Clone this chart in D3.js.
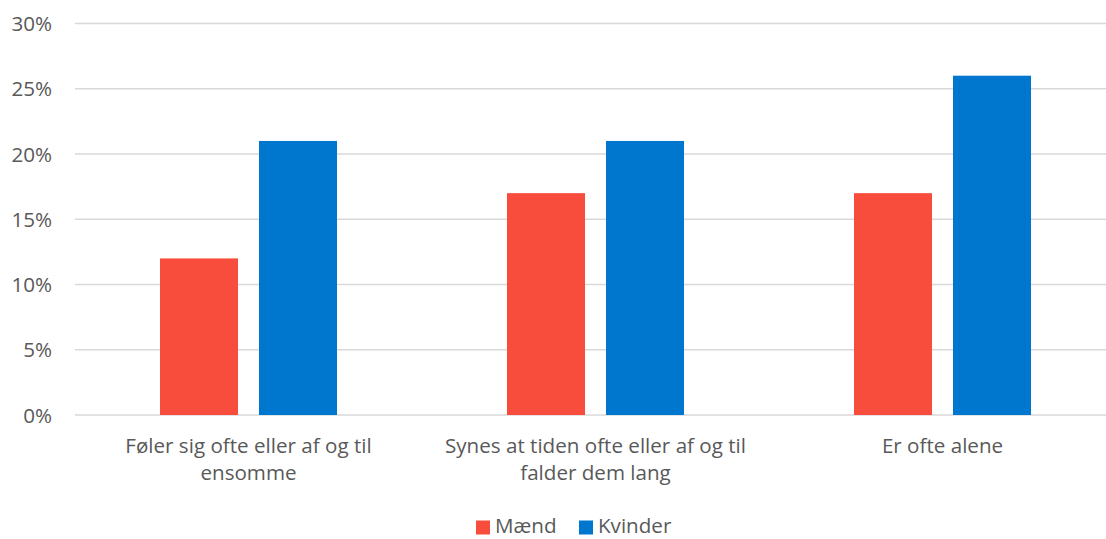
<!DOCTYPE html>
<html><head><meta charset="utf-8">
<script src="https://cdn.jsdelivr.net/npm/d3@7"></script>
<style>body{margin:0;background:#fff}svg{display:block}text{font-family:"Open Sans",sans-serif;fill:#595959}</style>
</head><body><svg id="c" width="1106" height="539"></svg>
<script>
const categories = ["c1","c2","c3"];
const categoryLabels = [["Føler sig ofte eller af og til","ensomme"],["Synes at tiden ofte eller af og til","falder dem lang"],["Er ofte alene"]];
const seriesNames = ["Mænd","Kvinder"];
const maend = [12,17,17];
const kvinder = [21,21,26];
const yTicks = [0,5,10,15,20,25,30];
const colors = ["#F84C3C","#0077CF"];
const FS = 20.6;

const svg = d3.select("#c");
const x0 = d3.scaleBand().domain(categories).range([75,1116]).padding(0);
const x1 = d3.scaleBand().domain(seriesNames).range([0,x0.bandwidth()]).paddingInner(0.2121).paddingOuter(0.8586);
const y = d3.scaleLinear().domain([0,30]).range([415,23.5]);

const grid = svg.append("g");
grid.selectAll("line").data(yTicks).join("line")
  .attr("x1",75).attr("x2",1106).attr("y1",d=>y(d)).attr("y2",d=>y(d))
  .attr("stroke","#d9d9d9").attr("stroke-width",1.5);

const yAxis = d3.axisLeft(y).tickValues(yTicks).tickFormat(d=>d+"%").tickSize(0).tickPadding(0);
const ya = svg.append("g").attr("transform","translate(52,0)").call(yAxis);
ya.select(".domain").remove();
ya.selectAll("text").attr("font-size",FS).attr("font-family",null).attr("fill","#595959").attr("dy","0.35em");

const data = categories.map((c,i)=>({c, vals:[maend[i],kvinder[i]]}));
const g = svg.append("g").selectAll("g").data(data).join("g").attr("transform",d=>`translate(${x0(d.c)},0)`);
g.selectAll("rect").data(d=>d.vals.map((v,j)=>({s:seriesNames[j],v,j}))).join("rect")
  .attr("x",d=>x1(d.s)).attr("width",x1.bandwidth())
  .attr("y",d=>y(d.v)).attr("height",d=>y(0)-y(d.v)).attr("fill",d=>colors[d.j]);

const xa = svg.append("g");
categories.forEach((c,i)=>{
  const t = xa.append("text").attr("x",x0(c)+x0.bandwidth()/2).attr("y",453).attr("text-anchor","middle").attr("font-size",FS);
  categoryLabels[i].forEach((l,k)=>t.append("tspan").attr("x",x0(c)+x0.bandwidth()/2).attr("dy",k?"27":"0").text(l));
});

const lg = svg.append("g");
const lx = [476,579];
seriesNames.forEach((s,i)=>{
  lg.append("rect").attr("x",lx[i]).attr("y",520.5).attr("width",14).attr("height",14).attr("fill",colors[i]);
  lg.append("text").attr("x",lx[i]+19).attr("y",533).attr("font-size",FS).text(s);
});
</script></body></html>
